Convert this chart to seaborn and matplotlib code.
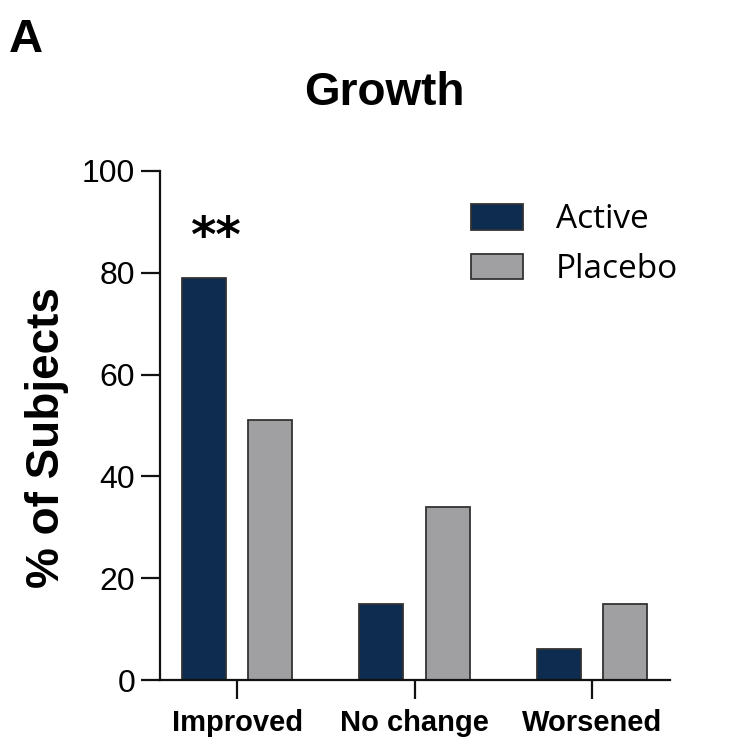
import pandas as pd
import seaborn as sns
import matplotlib.pyplot as plt

# values (% of subjects)
outcomes = ['Improved', 'No change', 'Worsened']
active = [79, 15, 6]
placebo = [51, 34, 15]
groups = ['Active', 'Placebo']

df = pd.DataFrame({
    'Outcome': outcomes * 2,
    'Group': ['Active'] * 3 + ['Placebo'] * 3,
    'Pct': active + placebo,
})

sns.set_style('white')
plt.rcParams['font.family'] = ['Liberation Sans', 'DejaVu Sans']
plt.rcParams['text.color'] = 'black'
plt.rcParams['axes.labelcolor'] = 'black'
plt.rcParams['xtick.color'] = 'black'
plt.rcParams['ytick.color'] = 'black'

fig = plt.figure(figsize=(7.52, 7.52), dpi=100)
ax = fig.add_axes([0.213, 0.0957, 0.678, 0.677])

sns.barplot(data=df, x='Outcome', y='Pct', hue='Group', order=outcomes,
            hue_order=groups, palette=['#0d2c4f', '#a0a0a2'],
            width=0.75, gap=0.34, edgecolor='#333333', linewidth=1.3,
            saturation=1, ax=ax)

ax.set_ylim(0, 100)
ax.set_xlim(-0.434, 2.44)
ax.set_yticks([0, 20, 40, 60, 80, 100])
ax.set_xlabel('')
ax.set_ylabel('% of Subjects', fontsize=33, fontweight='bold')
ax.yaxis.set_label_coords(-0.178, 0.477)
sns.despine(ax=ax)
for s in ['left', 'bottom']:
    ax.spines[s].set_linewidth(1.6)
    ax.spines[s].set_color('#111111')
ax.tick_params(axis='both', direction='out', length=14, width=1.6,
               color='#111111', bottom=True, left=True)
ax.tick_params(axis='y', labelsize=23, pad=4)
ax.tick_params(axis='x', pad=7)
for lab in ax.get_xticklabels():
    lab.set_fontweight('bold')
    lab.set_fontsize(21)

handles, labels = ax.get_legend_handles_labels()
ax.legend(handles, labels, frameon=False, loc='upper right',
          bbox_to_anchor=(1.075, 0.995),
          prop={'family': ['Open Sans', 'DejaVu Sans'], 'size': 24},
          handlelength=1.55, handleheight=0.8, handletextpad=1.0,
          labelspacing=0.5)

# significance marker
ax.text(-0.12, 86.8, '**', ha='center', va='center', fontsize=35,
        fontweight='bold', family=['DejaVu Sans'])

fig.text(0.511, 0.876, 'Growth', ha='center', va='center', fontsize=33,
         fontweight='bold')
fig.text(0.012, 0.947, 'A', ha='left', va='center', fontsize=34,
         fontweight='bold')

fig.savefig('out.png', dpi=100)
